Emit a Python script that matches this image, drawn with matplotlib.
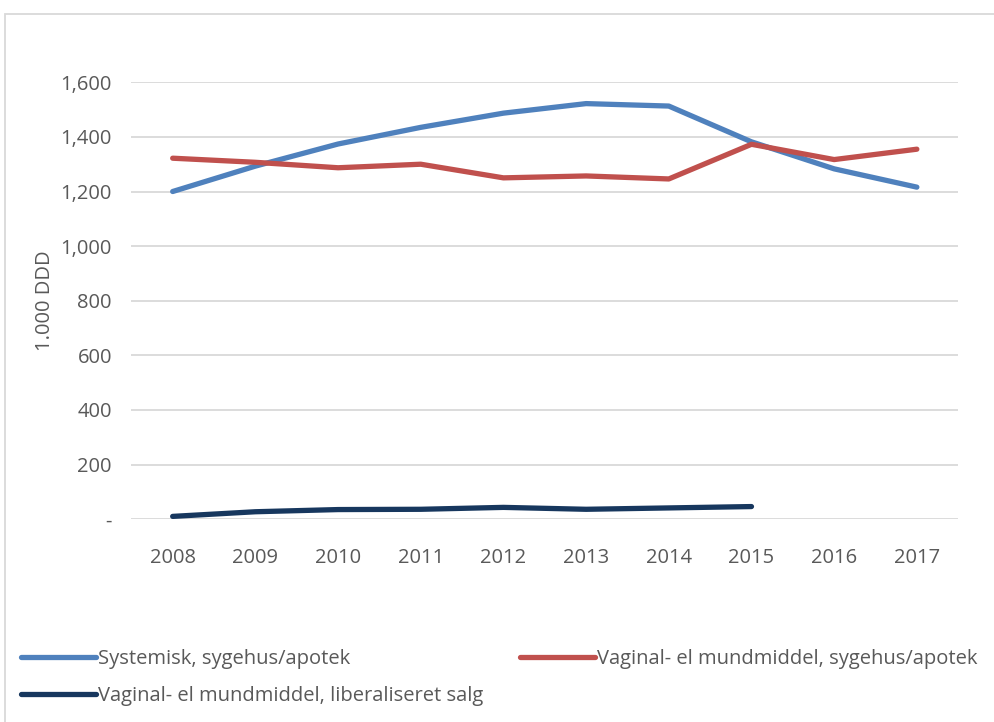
import numpy as np
import matplotlib.pyplot as plt
from matplotlib.patches import Rectangle
from matplotlib.ticker import FuncFormatter

years = [2008, 2009, 2010, 2011, 2012, 2013, 2014, 2015, 2016, 2017]
systemisk = [1200, 1293, 1374, 1435, 1487, 1522, 1513, 1382, 1283, 1216]
vaginal_apotek = [1322, 1307, 1287, 1300, 1250, 1257, 1246, 1373, 1317, 1355]
vaginal_liberal = [10, 27, 35, 36, 43, 36, 41, 46]

labels = ['Systemisk, sygehus/apotek',
          'Vaginal- el mundmiddel, sygehus/apotek',
          'Vaginal- el mundmiddel, liberaliseret salg']
colors = ['#4F81BD', '#C0504D', '#17375E']

plt.rcParams['font.family'] = ['Open Sans', 'DejaVu Sans']
txt_color = '#595959'
fs = 14.5

fig = plt.figure(figsize=(9.95, 7.22), dpi=100)
ax = fig.add_axes([0.132, 0.281, 0.831, 0.605])

x = np.arange(len(years))
lw = 3.8
h1, = ax.plot(x, systemisk, color=colors[0], lw=lw, solid_capstyle='round', solid_joinstyle='round')
h2, = ax.plot(x, vaginal_apotek, color=colors[1], lw=lw, solid_capstyle='round', solid_joinstyle='round')
h3, = ax.plot(x[:len(vaginal_liberal)], vaginal_liberal, color=colors[2], lw=lw,
              solid_capstyle='round', solid_joinstyle='round')

ax.set_xlim(-0.5, len(years) - 0.5)
ax.set_ylim(0, 1600)
ax.set_yticks(range(0, 1601, 200))
ax.yaxis.set_major_formatter(FuncFormatter(lambda v, p: '-' if v == 0 else f'{int(v):,}'))
ax.set_xticks(x)
ax.set_xticklabels([str(y) for y in years])
ax.grid(axis='y', color='#D9D9D9', lw=1.3)
ax.set_axisbelow(True)
for s in ax.spines.values():
    s.set_visible(False)
ax.tick_params(length=0, labelsize=fs, colors=txt_color, pad=21)
ax.tick_params(axis='y', pad=14)
ax.set_ylabel('1.000 DDD', fontsize=fs, color=txt_color, labelpad=4)

# legend rows: [blue, red] then [navy]; ncol=2 fills column-first, so reorder
leg = fig.legend([h1, h3, h2], [labels[0], labels[2], labels[1]], ncol=2,
                 loc='upper left', bbox_to_anchor=(0.013, 0.112), frameon=False,
                 fontsize=fs, handlelength=3.7, handletextpad=0.1,
                 columnspacing=1.85, labelspacing=0.85, borderaxespad=0)
for t in leg.get_texts():
    t.set_color(txt_color)
for l in leg.get_lines():
    l.set_linewidth(lw)

fig.patches.append(Rectangle((5 / 995, -0.1), 1.2, (722 - 14) / 722 + 0.1,
                             transform=fig.transFigure, fill=False,
                             edgecolor='#D9D9D9', lw=1.3))

plt.savefig('out.png', dpi=100)
